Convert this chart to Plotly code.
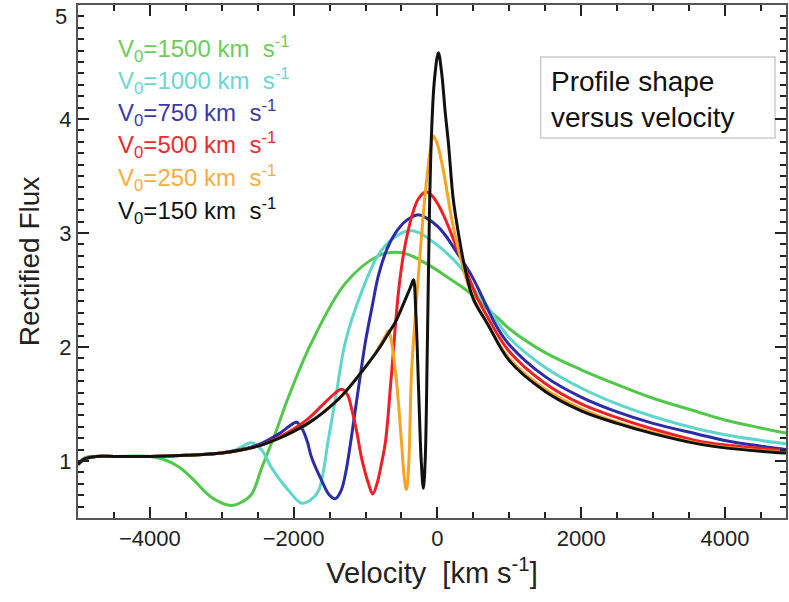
import plotly.graph_objects as go

# ---------------- data ----------------
V0_LABELS = ["1500", "1000", "750", "500", "250", "150"]

WING_V = [-5000, -4900, -4750, -4500, -4000, -3500, -3000]
WING_F = [0.97, 1.02, 1.04, 1.04, 1.04, 1.05, 1.07]

green_v = [-5000, -4900, -4750, -4500, -4000, -3833, -3600, -3417, -3139, -2875, -2720, -2583,
           -2444, -2250, -2097, -1750, -1278, -819, -583, -400, -125, 100, 333,
           540, 700, 847, 1000, 1500, 2000, 2500, 3000, 3625, 4000, 4500, 4850]
green_f = [0.98, 1.03, 1.04, 1.04, 1.04, 1.02, 0.95, 0.85, 0.68, 0.61, 0.64, 0.71,
           0.94, 1.25, 1.52, 2.04, 2.56, 2.80, 2.83, 2.81, 2.72, 2.63, 2.53,
           2.43, 2.33, 2.25, 2.16, 1.95, 1.80, 1.67, 1.55, 1.43, 1.36, 1.29, 1.245]

cyan_v = WING_V + [-2800, -2583, -2450, -2306, -2069, -1889, -1760, -1653, -1514, -1417, -1278,
                   -1056, -819, -600, -403, -250, -125, 100, 333, 540, 667, 1000, 1500, 2000,
                   2500, 3000, 3625, 4000, 4500, 4850]
cyan_f = WING_F + [1.10, 1.16, 1.10, 0.94, 0.74, 0.63, 0.66, 0.74, 1.20, 1.55, 2.05,
                   2.48, 2.81, 2.96, 3.02, 3.00, 2.95, 2.84, 2.69, 2.48, 2.38, 2.08, 1.82, 1.64,
                   1.50, 1.39, 1.28, 1.23, 1.18, 1.15]

blue_v = WING_V + [-2500, -2200, -2050, -1958, -1880, -1810, -1750, -1611, -1500, -1417, -1340,
                   -1278, -1210, -1139, -1070, -1000, -900, -819, -700, -583, -430, -264, -150,
                   0, 111, 300, 472, 600, 806, 1000, 1500, 2000, 2500, 3000, 3625, 4000, 4500, 4850]
blue_f = WING_F + [1.14, 1.24, 1.31, 1.34, 1.28, 1.17, 1.03, 0.83, 0.70, 0.67, 0.74,
                   0.89, 1.15, 1.46, 1.76, 2.05, 2.38, 2.63, 2.86, 3.00, 3.11, 3.16, 3.13,
                   3.06, 2.98, 2.80, 2.63, 2.47, 2.20, 2.02, 1.74, 1.56, 1.43, 1.33, 1.235, 1.18, 1.13, 1.10]

red_v = WING_V + [-2500, -2200, -2000, -1800, -1600, -1450, -1333, -1250, -1194, -1120, -1056,
                  -958, -900, -840, -780, -722, -639, -542, -470, -403, -330, -264, -167, -80,
                  0, 111, 250, 389, 540, 700, 1000, 1500, 2000, 2500, 3000, 3625, 4000, 4500, 4850]
red_f = WING_F + [1.13, 1.21, 1.28, 1.37, 1.49, 1.58, 1.63, 1.58, 1.46, 1.25, 1.03,
                  0.80, 0.71, 0.80, 0.97, 1.17, 1.76, 2.48, 2.82, 3.03, 3.20, 3.30, 3.36, 3.33,
                  3.26, 3.12, 2.90, 2.69, 2.45, 2.26, 1.96, 1.68, 1.50, 1.38, 1.28, 1.175, 1.14, 1.11, 1.09]

orange_v = WING_V + [-2500, -2200, -2000, -1800, -1600, -1333, -1056, -850, -720, -681, -640,
                     -569, -500, -460, -431, -400, -361, -310, -264, -167, -100, -56, 0, 60, 111,
                     200, 292, 400, 500, 700, 1000, 1500, 2000, 2500, 3000, 3625, 4000, 4500, 4850]
orange_f = WING_F + [1.13, 1.20, 1.26, 1.33, 1.42, 1.57, 1.78, 1.96, 2.10, 2.14, 2.05,
                     1.70, 1.17, 0.85, 0.75, 0.95, 1.76, 2.25, 2.63, 3.36, 3.72, 3.85, 3.78, 3.62, 3.45,
                     3.12, 2.86, 2.60, 2.43, 2.20, 1.90, 1.63, 1.46, 1.34, 1.25, 1.155, 1.12, 1.09, 1.075]

black_v = WING_V + [-2500, -2200, -2000, -1800, -1600, -1333, -1056, -819, -681, -583, -444,
                    -370, -333, -300, -260, -225, -195, -170, -140, -110, -80, -40, 14, 60, 110,
                    153, 220, 292, 380, 500, 700, 1000, 1500, 2000, 2500, 3000, 3625, 4000, 4500, 4850]
black_f = WING_F + [1.13, 1.20, 1.26, 1.33, 1.42, 1.57, 1.78, 1.98, 2.12, 2.22, 2.42,
                    2.53, 2.59, 2.30, 1.60, 1.00, 0.76, 1.00, 2.00, 3.20, 3.90, 4.35, 4.58, 4.40, 4.05,
                    3.79, 3.30, 3.00, 2.70, 2.42, 2.20, 1.88, 1.61, 1.44, 1.33, 1.24, 1.15, 1.115, 1.085, 1.07]

SERIES_V = [green_v, cyan_v, blue_v, red_v, orange_v, black_v]
SERIES_F = [green_f, cyan_f, blue_f, red_f, orange_f, black_f]

X_RANGE = [-5000, 4850]
Y_RANGE = [0.5, 4.999]
X_TICK_STEP, X_MINOR_STEP = 2000, 500
Y_TICK_STEP, Y_MINOR_STEP = 1, 0.1
Y_TOP_LABEL = 5

# ---------------- styling ----------------
LINE_COLORS = ["#52c84a", "#5fd6cc", "#2c2ca8", "#ee2026", "#f7a421", "#111111"]
TEXT_COLORS = ["#6ccc5c", "#6bd8cf", "#3a3aa8", "#ee2a2a", "#f9ad3c", "#111111"]
FONT = "Arial, Liberation Sans, Helvetica, sans-serif"
AXC = "#555555"
TKC = "#222222"

fig = go.Figure()
for v, f, c in zip(SERIES_V, SERIES_F, LINE_COLORS):
    fig.add_trace(go.Scatter(x=v, y=f, mode="lines",
                             line=dict(color=c, width=3, shape="spline", smoothing=1.0),
                             showlegend=False))

legend_y = [49, 81, 113, 145, 178, 211]
PLOT_TOP, PLOT_BOT = 5, 518
for lab, c, py in zip(V0_LABELS, TEXT_COLORS, legend_y):
    fig.add_annotation(xref="paper", yref="paper", x=(116 - 78) / 710,
                       y=(PLOT_BOT - py) / (PLOT_BOT - PLOT_TOP),
                       xanchor="left", yanchor="middle", showarrow=False,
                       text=f"V<sub>0</sub>={lab} km  s<sup>-1</sup>",
                       font=dict(family=FONT, size=24, color=c))

# top tick label (shifted down in the reference so it fits)
fig.add_annotation(xref="paper", yref="paper", x=0, y=1, xanchor="right", yanchor="middle",
                   xshift=-9, yshift=-11, showarrow=False, text=str(Y_TOP_LABEL),
                   font=dict(family=FONT, size=22, color="#222"))

# box annotation
fig.add_shape(type="rect", xref="paper", yref="paper",
              x0=(542 - 78) / 710, x1=(777 - 78) / 710,
              y0=(PLOT_BOT - 138) / 513, y1=(PLOT_BOT - 57) / 513,
              line=dict(color="#555555", width=1.5), fillcolor="white")
fig.add_annotation(xref="paper", yref="paper", x=(550 - 78) / 710, y=(PLOT_BOT - 99) / 513,
                   xanchor="left", yanchor="middle", align="left", showarrow=False,
                   text="Profile shape<br>versus velocity",
                   font=dict(family=FONT, size=28, color="#111"))

fig.update_layout(
    template="simple_white",
    xaxis=dict(range=X_RANGE, dtick=X_TICK_STEP, ticks="inside", ticklen=11, tickwidth=2,
               tickcolor=TKC, showline=True, linecolor=AXC, linewidth=2, mirror="ticks",
               showgrid=False, zeroline=False,
               minor=dict(ticks="inside", ticklen=6, tickwidth=2, tickcolor=TKC,
                          dtick=X_MINOR_STEP, showgrid=False),
               title=dict(text="Velocity  [km s<sup>-1</sup>]",
                          font=dict(family=FONT, size=29, color="#222"), standoff=12)),
    yaxis=dict(range=Y_RANGE, dtick=Y_TICK_STEP, ticks="inside", ticklen=11, tickwidth=2,
               tickcolor=TKC, showline=True, linecolor=AXC, linewidth=2, mirror="ticks",
               showgrid=False, zeroline=False,
               minor=dict(ticks="inside", ticklen=6, tickwidth=2, tickcolor=TKC,
                          dtick=Y_MINOR_STEP, showgrid=False),
               title=dict(text="Rectified Flux",
                          font=dict(family=FONT, size=28, color="#222"), standoff=12)),
    width=789, height=602, margin=dict(l=78, r=1, t=5, b=84),
    plot_bgcolor="white", paper_bgcolor="white",
    font=dict(family=FONT, size=22, color="#222"))

fig.write_html("out.html")
